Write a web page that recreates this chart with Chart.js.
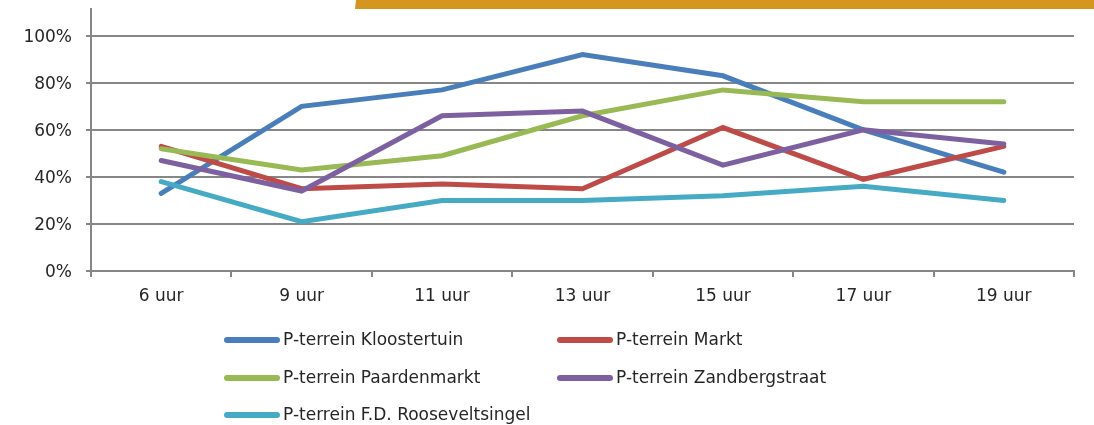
<!DOCTYPE html>
<html>
<head>
<meta charset="utf-8">
<script src="https://cdn.jsdelivr.net/npm/chart.js@4"></script>
<style>
  html, body { margin: 0; padding: 0; background: #fff; }
  #wrap { width: 1094px; height: 425px; position: relative; }
</style>
</head>
<body>
<div id="wrap"><canvas id="bezetting" width="1094" height="425"></canvas></div>
<script>
const hours = ['6 uur', '9 uur', '11 uur', '13 uur', '15 uur', '17 uur', '19 uur'];
const yTicks = [0, 20, 40, 60, 80, 100];

const kloostertuin = [33, 70, 77, 92, 83, 60, 42];
const markt = [53, 35, 37, 35, 61, 39, 53];
const paardenmarkt = [52, 43, 49, 66, 77, 72, 72];
const zandbergstraat = [47, 34, 66, 68, 45, 60, 54];
const rooseveltsingel = [38, 21, 30, 30, 32, 36, 30];

const names = ['P-terrein Kloostertuin', 'P-terrein Markt', 'P-terrein Paardenmarkt',
  'P-terrein Zandbergstraat', 'P-terrein F.D. Rooseveltsingel'];
const colors = ['#4A7EBB', '#BE4B48', '#98B954', '#7D60A0', '#46AAC5'];
const series = [kloostertuin, markt, paardenmarkt, zandbergstraat, rooseveltsingel];

const axisGrey = '#868686';
const textColor = '#262626';
const font = 'DejaVu Sans';

// orange band at the top + two-column legend underneath
const decor = {
  id: 'decor',
  beforeDraw(chart) {
    const ctx = chart.ctx;
    ctx.save();
    ctx.fillStyle = '#D4961E';
    ctx.beginPath();
    ctx.moveTo(356, 0);
    ctx.lineTo(1094, 0);
    ctx.lineTo(1094, 9);
    ctx.lineTo(355, 9);
    ctx.closePath();
    ctx.fill();
    ctx.restore();
  },
  afterDraw(chart) {
    const ctx = chart.ctx;
    const cols = [224, 557];
    const rows = [340, 378, 415];
    ctx.save();
    ctx.font = '17px "' + font + '"';
    ctx.textBaseline = 'middle';
    ctx.lineCap = 'round';
    ctx.lineWidth = 6;
    chart.data.datasets.forEach((ds, i) => {
      const x = cols[i % 2];
      const y = rows[Math.floor(i / 2)];
      ctx.strokeStyle = ds.borderColor;
      ctx.beginPath();
      ctx.moveTo(x + 3, y);
      ctx.lineTo(x + 53, y);
      ctx.stroke();
      ctx.fillStyle = textColor;
      ctx.fillText(ds.label, x + 59, y + 1);
    });
    ctx.restore();
  }
};

new Chart(document.getElementById('bezetting'), {
  type: 'line',
  data: {
    labels: hours,
    datasets: series.map((vals, i) => ({
      label: names[i],
      data: vals,
      borderColor: colors[i],
      backgroundColor: colors[i],
      borderWidth: 5,
      borderCapStyle: 'round',
      borderJoinStyle: 'miter',
      pointRadius: 0,
      tension: 0,
      order: 5 - i
    }))
  },
  options: {
    responsive: false,
    animation: false,
    layout: { padding: { left: 0, right: 20, top: 9, bottom: 0 } },
    plugins: {
      legend: { display: false },
      tooltip: { enabled: false }
    },
    scales: {
      x: {
        offset: true,
        grid: {
          offset: true,
          drawOnChartArea: false,
          drawTicks: true,
          tickLength: 6,
          lineWidth: 2,
          color: axisGrey
        },
        border: { color: axisGrey, width: 2 },
        ticks: {
          color: textColor,
          font: { family: font, size: 17 },
          padding: 9,
          maxRotation: 0
        },
        afterFit(scale) { scale.height = 154; }
      },
      y: {
        min: 0,
        max: 111.4,
        afterBuildTicks(scale) {
          scale.ticks = yTicks.map(v => ({ value: v }));
        },
        grid: {
          color: axisGrey,
          lineWidth: 2,
          tickLength: 5
        },
        border: { color: axisGrey, width: 2 },
        ticks: {
          color: textColor,
          font: { family: font, size: 17 },
          padding: 14,
          labelOffset: 2,
          callback: v => v + '%'
        },
        afterFit(scale) {
          scale.width = 91;
          scale.paddingTop = 0;
          scale.paddingBottom = 0;
        }
      }
    }
  },
  plugins: [decor]
});
</script>
</body>
</html>
